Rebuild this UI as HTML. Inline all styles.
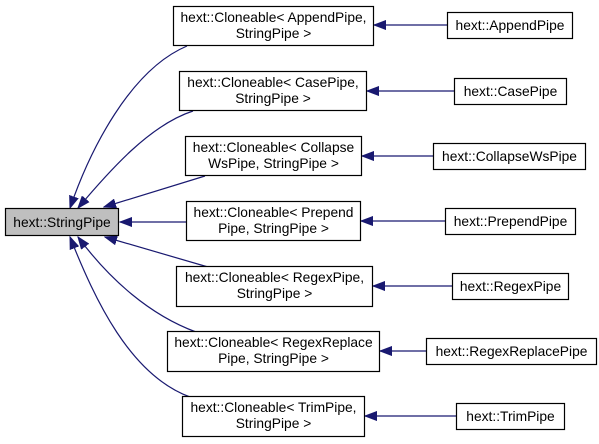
<!DOCTYPE html>
<html><head><meta charset="utf-8"><style>
html,body{margin:0;padding:0;background:#fff}
svg{display:block}
text{font-family:"Liberation Sans",sans-serif;font-size:13.8px;fill:#000}
.b{fill:#fff;stroke:#000;stroke-width:1.2}
.e{fill:none;stroke:#191970;stroke-width:1.2}
</style></head><body>
<svg width="599" height="444" viewBox="0 0 599 444" xmlns="http://www.w3.org/2000/svg">
<defs>
<marker id="a" markerWidth="13" markerHeight="10" refX="12" refY="5" orient="auto" markerUnits="userSpaceOnUse">
<polygon points="0,0.5 12,5 0,9.5" fill="#191970" stroke="#191970"/>
</marker>
</defs>
<path class="e" marker-end="url(#a)" d="M187,46 C130,70 90,150 70,208"/>
<path class="e" marker-end="url(#a)" d="M193,111 C150,125 110,170 78,208"/>
<path class="e" marker-end="url(#a)" d="M205,176 L104,207"/>
<path class="e" marker-end="url(#a)" d="M186,222 L120,222"/>
<path class="e" marker-end="url(#a)" d="M208,267 L105,237"/>
<path class="e" marker-end="url(#a)" d="M196,332 C150,315 110,280 78,237"/>
<path class="e" marker-end="url(#a)" d="M190,397 C130,375 95,300 70,237"/>
<path class="e" marker-end="url(#a)" d="M447,25 L374,25"/>
<path class="e" marker-end="url(#a)" d="M454,91 L367,91"/>
<path class="e" marker-end="url(#a)" d="M433,156 L362,156"/>
<path class="e" marker-end="url(#a)" d="M445,221 L361,221"/>
<path class="e" marker-end="url(#a)" d="M452,286 L373,286"/>
<path class="e" marker-end="url(#a)" d="M426,351 L380,351"/>
<path class="e" marker-end="url(#a)" d="M456,416 L365,416"/>
<rect x="5.5" y="208.5" width="113" height="27" fill="#bfbfbf" stroke="#000" stroke-width="1.2"/>
<text x="62" y="227" text-anchor="middle">hext::StringPipe</text>
<rect class="b" x="173.5" y="6.5" width="200" height="39"/>
<text x="273.5" y="22" text-anchor="middle">hext::Cloneable&lt; AppendPipe,</text>
<text x="273.5" y="38" text-anchor="middle">StringPipe &gt;</text>
<rect class="b" x="179.5" y="71.5" width="187" height="39"/>
<text x="273" y="87" text-anchor="middle">hext::Cloneable&lt; CasePipe,</text>
<text x="273" y="103" text-anchor="middle">StringPipe &gt;</text>
<rect class="b" x="185.5" y="136.5" width="176" height="39"/>
<text x="273.5" y="152" text-anchor="middle">hext::Cloneable&lt; Collapse</text>
<text x="273.5" y="168" text-anchor="middle">WsPipe, StringPipe &gt;</text>
<rect class="b" x="186.5" y="201.5" width="174" height="39"/>
<text x="273.5" y="217" text-anchor="middle">hext::Cloneable&lt; Prepend</text>
<text x="273.5" y="233" text-anchor="middle">Pipe, StringPipe &gt;</text>
<rect class="b" x="176.5" y="266.5" width="196" height="40"/>
<text x="274.5" y="282" text-anchor="middle">hext::Cloneable&lt; RegexPipe,</text>
<text x="274.5" y="298" text-anchor="middle">StringPipe &gt;</text>
<rect class="b" x="167.5" y="331.5" width="212" height="40"/>
<text x="273.5" y="347" text-anchor="middle">hext::Cloneable&lt; RegexReplace</text>
<text x="273.5" y="363" text-anchor="middle">Pipe, StringPipe &gt;</text>
<rect class="b" x="182.5" y="396.5" width="182" height="40"/>
<text x="273.5" y="412" text-anchor="middle">hext::Cloneable&lt; TrimPipe,</text>
<text x="273.5" y="428" text-anchor="middle">StringPipe &gt;</text>
<rect class="b" x="447.5" y="12.5" width="125" height="26"/>
<text x="510" y="30" text-anchor="middle">hext::AppendPipe</text>
<rect class="b" x="454.5" y="78.5" width="112" height="26"/>
<text x="510.5" y="96" text-anchor="middle">hext::CasePipe</text>
<rect class="b" x="433.5" y="143.5" width="152" height="26"/>
<text x="509.5" y="161" text-anchor="middle">hext::CollapseWsPipe</text>
<rect class="b" x="445.5" y="208.5" width="130" height="26"/>
<text x="510.5" y="226" text-anchor="middle">hext::PrependPipe</text>
<rect class="b" x="452.5" y="273.5" width="116" height="26"/>
<text x="510.5" y="291" text-anchor="middle">hext::RegexPipe</text>
<rect class="b" x="426.5" y="338.5" width="170" height="26"/>
<text x="511.5" y="356" text-anchor="middle">hext::RegexReplacePipe</text>
<rect class="b" x="456.5" y="403.5" width="108" height="26"/>
<text x="510.5" y="421" text-anchor="middle">hext::TrimPipe</text>
</svg>
</body></html>
